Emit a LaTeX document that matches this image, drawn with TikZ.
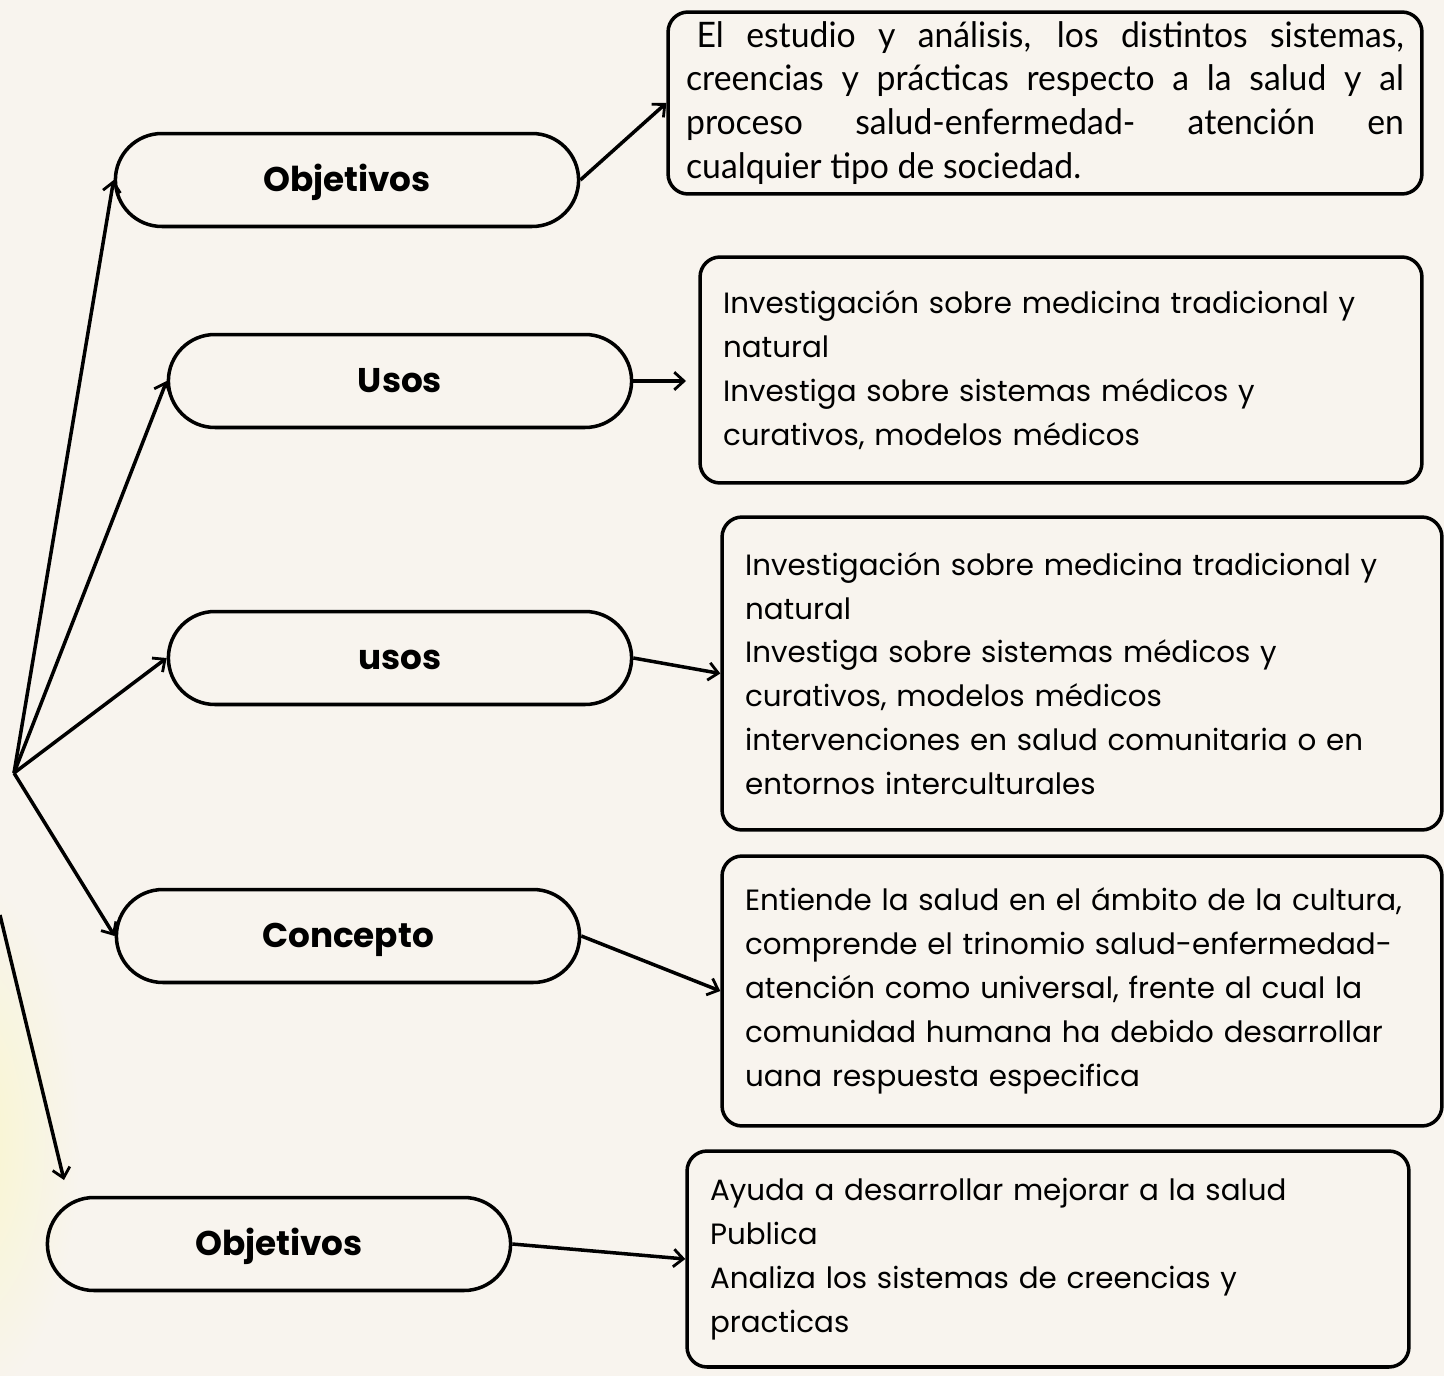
\documentclass[tikz,border=0pt]{standalone}
\usepackage{fontspec}
\setmainfont{Poppins}
\newfontfamily\narrowfont{Lato}[FakeStretch=0.96]
\usetikzlibrary{shapes.misc,arrows.meta}
\definecolor{fondo}{HTML}{F8F4EE}
\begin{document}
\begin{tikzpicture}[
		x=0.02cm, y=-0.02cm,
		line width=2pt,
		>={Straight Barb[length=5.5pt,width=10pt,line width=1.6pt]},
		pill/.style={rounded rectangle,draw,minimum width=9.5cm,minimum height=1.86cm,
				text height=16pt,text depth=3pt,
				font=\fontsize{19.5}{22}\selectfont\bfseries},
		caja/.style={rectangle,rounded corners=0.4cm,draw,align=left,inner xsep=0.46cm,
				font=\fontsize{16.7}{25}\selectfont}
	]
	\useasboundingbox (0,0) rectangle (1444,1376);
	\fill[fondo] (0,0) rectangle (1444,1376);
	\shade[inner color=yellow!14!fondo,outer color=fondo] (-30,1140) ellipse (110 and 260);

	\node[pill] (obj1) at (347,180) {Objetivos};
	\node[pill] (usos1) at (400,381) {Usos};
	\node[pill] (usos2) at (400,658) {usos};
	\node[pill] (concepto) at (348,936) {Concepto};
	\node[pill] (obj2) at (279,1244) {Objetivos};

	\node[caja,text width=14.36cm,inner xsep=0.36cm,minimum height=3.64cm,align=justify,
		font=\narrowfont\fontsize{20}{25}\selectfont] (cajaA) at (1045,103)
	{\hspace*{0.3em}El estudio y análisis, los distintos sistemas,\linebreak
		creencias y prácticas respecto a la salud y al\linebreak
		proceso salud-enfermedad- atención en\linebreak
		cualquier tipo de sociedad.};
	\node[caja,text width=13.52cm,minimum height=4.52cm] (cajaB) at (1061,370)
	{Investigación sobre medicina tradicional y\\
		natural\\
		Investiga sobre sistemas médicos y\\
		curativos, modelos médicos};
	\node[caja,text width=13.48cm,minimum height=6.26cm] (cajaC) at (1082,673.5)
	{Investigación sobre medicina tradicional y\\
		natural\\
		Investiga sobre sistemas médicos y\\
		curativos, modelos médicos\\
		intervenciones en salud comunitaria o en\\
		entornos interculturales};
	\node[caja,text width=13.48cm,minimum height=5.4cm] (cajaD) at (1082,991)
	{Entiende la salud en el ámbito de la cultura,\\
		comprende el trinomio salud-enfermedad-\\
		atención como universal, frente al cual la\\
		comunidad humana ha debido desarrollar\\
		uana respuesta especifica};
	\node[caja,text width=13.52cm,minimum height=4.32cm] (cajaE) at (1048,1259)
	{Ayuda a desarrollar mejorar a la salud\\
		Publica\\
		Analiza los sistemas de creencias y\\
		practicas};

	\coordinate (hub) at (14,773);
	\coordinate (origen) at (0,915);
	\coordinate (fin) at (64,1180);
	\coordinate (puntaB) at (686,381);

	\draw[->] (hub) -- (obj1.west);
	\draw[->] (hub) -- (usos1.west);
	\draw[->] (hub) -- (usos2.west);
	\draw[->] (hub) -- (concepto.west);
	\draw[->] (origen) -- (fin);

	\draw[->] (obj1.east) -- (cajaA.west);
	\draw[->] (usos1.east) -- (puntaB);
	\draw[->] (usos2.east) -- (cajaC.west);
	\draw[->] (concepto.east) -- (cajaD.west);
	\draw[->] (obj2.east) -- (cajaE.west);
\end{tikzpicture}
\end{document}
